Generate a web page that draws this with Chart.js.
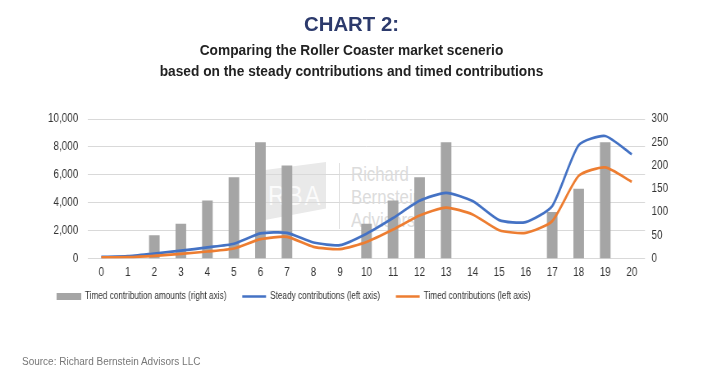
<!DOCTYPE html>
<html>
<head>
<meta charset="utf-8">
<script src="https://cdn.jsdelivr.net/npm/chart.js@4.4.0/dist/chart.umd.min.js"></script>
<style>
  html, body { margin: 0; padding: 0; background: #fff; }
  #wrap { position: relative; width: 703px; height: 388px; overflow: hidden; background: #fff; }
  #chart { position: absolute; left: 0; top: 0; z-index: 1; }
  .txt { position: absolute; left: 0; width: 703px; text-align: center; z-index: 2; white-space: nowrap; }
  #t1 { top: 12px; font: bold 21px "Liberation Sans", sans-serif; color: #2c3a6c; line-height: 24px; transform: scaleX(0.97); }
  #t2 { top: 39px; font: bold 15px "Liberation Sans", sans-serif; color: #222; line-height: 21px; transform: scaleX(0.915); }
  #src { position: absolute; left: 22px; top: 356px; font: 10px "Liberation Sans", sans-serif; color: #777; z-index: 2; }
  #wm { position: absolute; left: 0; top: 0; width: 703px; height: 388px; z-index: 0; }
  #panel { position: absolute; left: 265px; top: 162px; width: 61px; height: 58px; background: #e9e9e9;
           clip-path: polygon(0 14%, 100% 0, 100% 80%, 0 100%); }
  #rba { position: absolute; left: 262px; top: 180px; width: 66px; text-align: center; font: 28px "Liberation Sans", sans-serif; color: #fbfbfb; letter-spacing: 2px; transform: scaleX(0.85); }
  #vline { position: absolute; left: 339px; top: 163px; width: 1px; height: 66px; background: #e2e2e2; }
  #rbt { position: absolute; left: 351px; top: 162px; font: 21px "Liberation Sans", sans-serif; color: #dcdcdc; line-height: 23px; transform: scaleX(0.8); transform-origin: left top; }
</style>
</head>
<body>
<div id="wrap">
  <div id="wm">
    <div id="panel"></div>
    <div id="rba">RBA</div>
    <div id="vline"></div>
    <div id="rbt">Richard<br>Bernstein<br>Advisors</div>
  </div>
  <canvas id="chart" width="857" height="388" style="width:703px;height:388px"></canvas>
  <div class="txt" id="t1">CHART 2:</div>
  <div class="txt" id="t2">Comparing the Roller Coaster market scenerio<br>based on the steady contributions and timed contributions</div>
  <div id="src">Source: Richard Bernstein Advisors LLC</div>
</div>
<script>
// ---- data ----
const periods = ['0','1','2','3','4','5','6','7','8','9','10','11','12','13','14','15','16','17','18','19','20'];
const timedAmounts = [0, 0, 50, 75, 125, 175, 250, 200, 0, 0, 75, 125, 175, 250, 0, 0, 0, 100, 150, 250, 0];
const steadyContrib = [115, 165, 360, 560, 800, 1060, 1800, 1840, 1150, 960, 1780, 2900, 4135, 4710, 4115, 2750, 2605, 3755, 8130, 8780, 7465];
const timedContrib = [80, 95, 190, 330, 500, 715, 1385, 1550, 835, 670, 1180, 2070, 3080, 3650, 3160, 2030, 1840, 2680, 5930, 6530, 5500];
const leftTicks = [0, 2000, 4000, 6000, 8000, 10000];
const rightTicks = [0, 50, 100, 150, 200, 250, 300];
const seriesNames = ['Timed contribution amounts (right axis)', 'Steady contributions (left axis)', 'Timed contributions (left axis)'];

const GRAY = '#a5a5a5', BLUE = '#4472c4', ORANGE = '#ed7d31';
const FONT = '"Liberation Sans", Arial, sans-serif';
const GAP = '   '; // extra spacing after legend texts

// The canvas is drawn 857 units wide and shown 703px wide, giving narrow (condensed) text.
const sw = document.createElement('canvas');
sw.width = 30; sw.height = 7;
const sctx = sw.getContext('2d');
sctx.fillStyle = GRAY; sctx.fillRect(0, 0, 30, 7);

new Chart(document.getElementById('chart'), {
  data: {
    labels: periods,
    datasets: [
      { type: 'line', label: seriesNames[1], data: steadyContrib, yAxisID: 'y', borderColor: BLUE, backgroundColor: BLUE,
        borderWidth: 2.7, pointRadius: 0, tension: 0.2, order: 1 },
      { type: 'line', label: seriesNames[2], data: timedContrib, yAxisID: 'y', borderColor: ORANGE, backgroundColor: ORANGE,
        borderWidth: 2.7, pointRadius: 0, tension: 0.2, order: 0 },
      { type: 'bar', label: seriesNames[0], data: timedAmounts, yAxisID: 'y1', backgroundColor: GRAY,
        barPercentage: 0.4, categoryPercentage: 1.0, order: 2 }
    ]
  },
  options: {
    responsive: false,
    animation: false,
    events: [],
    devicePixelRatio: 1,
    layout: { padding: { left: 58.5, right: 0, top: 119, bottom: 76.5 } },
    plugins: {
      tooltip: { enabled: false },
      title: { display: false },
      legend: {
        display: true,
        position: 'bottom',
        align: 'start',
        labels: {
          usePointStyle: true,
          pointStyleWidth: 29,
          boxHeight: 10,
          padding: 11,
          color: '#333',
          font: { family: FONT, size: 10 },
          sort: (a, b) => (a.datasetIndex === 2 ? -1 : b.datasetIndex === 2 ? 1 : a.datasetIndex - b.datasetIndex),
          generateLabels: (chart) => {
            const items = Chart.defaults.plugins.legend.labels.generateLabels(chart);
            items.forEach(it => {
              it.text = it.text + GAP;
              if (it.datasetIndex === 2) {
                it.pointStyle = sw; it.lineWidth = 0;
              } else {
                it.pointStyle = 'line'; it.lineWidth = 2.7;
                it.strokeStyle = it.datasetIndex === 0 ? BLUE : ORANGE;
              }
            });
            return items;
          }
        }
      }
    },
    scales: {
      x: {
        offset: true,
        grid: { display: false, drawTicks: false },
        border: { display: false },
        ticks: { color: '#333', font: { family: FONT, size: 12 }, padding: 7, maxRotation: 0, autoSkip: false },
        afterFit: (s) => { s.height = 22; }
      },
      y: {
        position: 'left',
        min: 0, max: 10000,
        afterBuildTicks: (s) => { s.ticks = leftTicks.map(v => ({ value: v })); },
        grid: { color: '#d9d9d9', lineWidth: 1, drawTicks: false },
        border: { display: false },
        ticks: { color: '#333', font: { family: FONT, size: 12 }, padding: 12,
                 callback: (v) => v.toLocaleString('en-US') },
        afterFit: (s) => { s.width = 48.8; }
      },
      y1: {
        position: 'right',
        min: 0, max: 300,
        afterBuildTicks: (s) => { s.ticks = rightTicks.map(v => ({ value: v })); },
        grid: { display: false, drawTicks: false },
        border: { display: false },
        ticks: { color: '#333', font: { family: FONT, size: 12 }, padding: 8 },
        afterFit: (s) => { s.width = 70.7; }
      }
    }
  }
});
</script>
</body>
</html>
